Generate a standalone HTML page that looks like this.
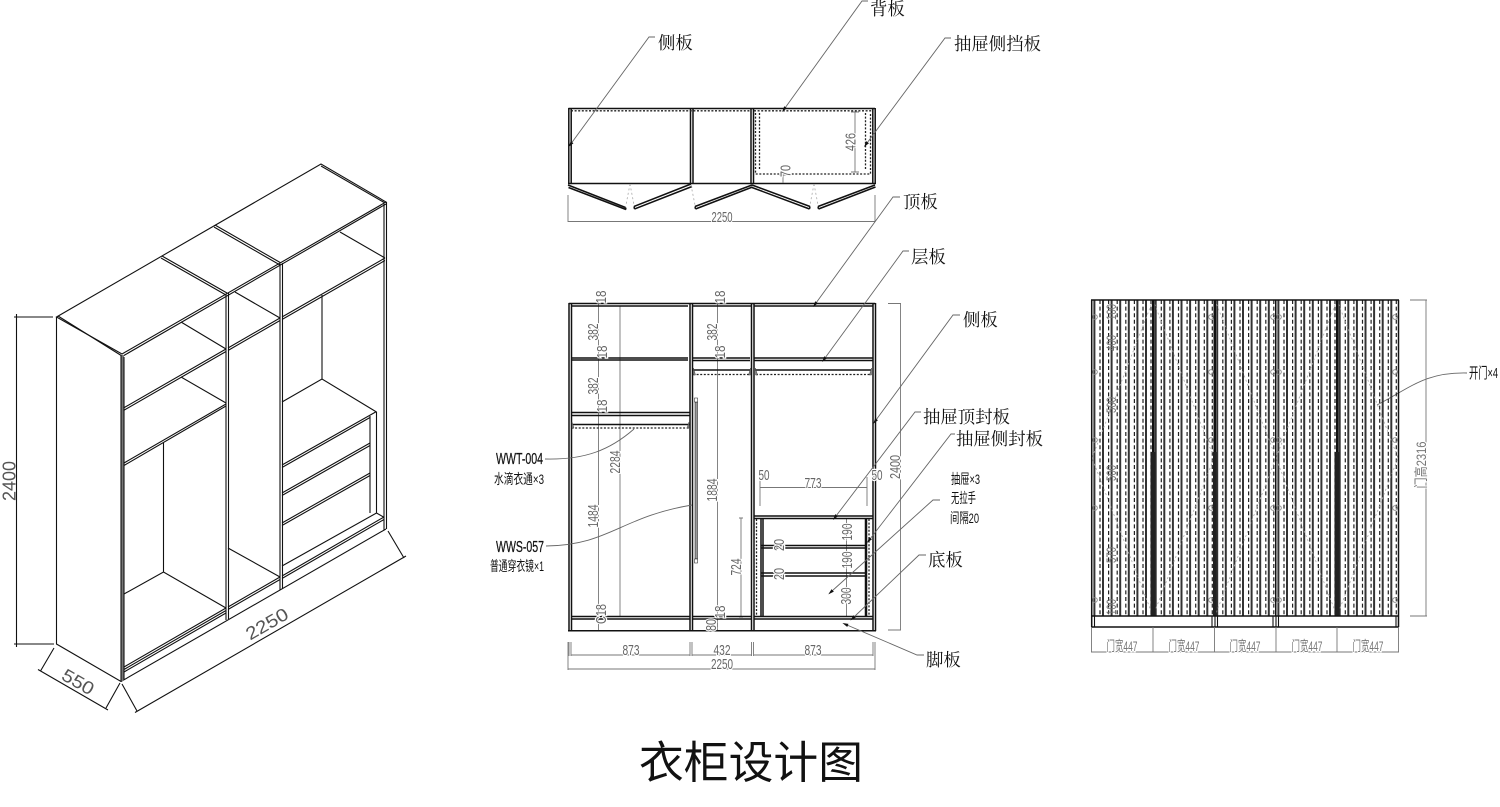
<!DOCTYPE html>
<html lang="zh"><head><meta charset="utf-8"><title>衣柜设计图</title>
<style>
html,body{margin:0;padding:0;background:#fff}
svg{display:block}
.k{stroke:#111;stroke-width:1.1;fill:none}
.t{stroke:#111;stroke-width:1.5;fill:none}
.g{stroke:#777;stroke-width:.9;fill:none}
.l{stroke:#666;stroke-width:.9;fill:none}
.dot{stroke:#222;stroke-width:1.3;stroke-dasharray:2 1.6;fill:none}
.dg{stroke:#aaa;stroke-width:.8;stroke-dasharray:2 2.5;fill:none}
.d{font:15px "Liberation Sans",sans-serif;fill:#666;text-anchor:middle;paint-order:stroke;stroke:#fff;stroke-width:2.5}
.f{fill:#777;font:14px "Liberation Sans","Noto Sans CJK SC",sans-serif;text-anchor:middle}
.i{font:18px "Liberation Sans",sans-serif;fill:#555;text-anchor:middle}
.s{font:17.4px "Noto Serif CJK SC",serif;fill:#111}
.n{font:14px "Liberation Sans","Noto Sans CJK SC",sans-serif;fill:#111}
.c{font:16px "Liberation Sans",sans-serif;fill:#111;stroke:#111;stroke-width:.25}
.title{font:44.4px "Noto Sans CJK SC",sans-serif;fill:#111}
</style></head><body>
<svg width="1500" height="807" viewBox="0 0 1500 807" xmlns="http://www.w3.org/2000/svg">
<defs>
<marker id="a" markerUnits="userSpaceOnUse" markerWidth="7" markerHeight="4" refX="1" refY="2" orient="auto-start-reverse"><path d="M6 0.3L6 3.7L0 2Z" fill="#111" transform="rotate(180 3 2)"/></marker>
<g id="door">
<path d="M2.4 0V316M11 0V316M19.6 0V316M28.2 0V316M36.8 0V316M45.4 0V316M54 0V316" stroke="#333" stroke-width="2" fill="none"/>
<path d="M8 0V316M16.6 0V316M25.2 0V316M33.8 0V316M42.4 0V316M51 0V316M59 0V316" stroke="#222" stroke-width="1.2" stroke-dasharray="4 2.6" fill="none"/>
</g>
</defs>

<!-- ISOMETRIC -->
<g class="k">
<path d="M56.5 317L321 164L386 202L122 354Z"/>
<path d="M58 316L122 356M321 166L385 203M123 356L386 204"/>
<path d="M162 256L227 293M161 258L226 295M215 225L281 263M214 227L280 265"/>
<path d="M56.5 317V644L121 681.5L386 529"/>
</g>
<g fill="#777" stroke="none"><rect x="121" y="355" width="3" height="326"/></g>
<g class="k">
<path d="M121 355V681M124 357V680M226 294V620M228.500 293V619M280 264V590M282.500 263V589M384 204V530M386.500 202V529"/>
<path d="M123.500 408L226 349M123.500 410.500L226 351.500M228 348L280 318M228 350.500L280 320.500M282 317L385 258M282 319.500L385 260.500"/>
<path d="M181 322L226 349M235 292L280 318M340 232L385 258"/>
<path d="M124 463L226 404M124 465.500L226 406M181 377L226 403"/>
<path d="M163.500 443V572M124 594L163.500 572L226 608"/>
<path d="M124 667L226 608M124 669.500L226 610.500M124 672L226 613M228 607L280 577M228 609.500L280 579.500M228 548L280 577"/>
<path d="M282 566L376.500 513L383.500 517M282 576L384 517M282 578.500L384 519.500"/>
<path d="M322 295V379M282 402L322 379L376.500 412"/>
<path d="M370 416V513M376.500 412V513"/>
<path d="M282 465L376.500 411.500M282 467.500L370 417.500M282 493L370 443M282 495.500L370 445.500M282 523L370 473M282 525.500L370 475.500"/>
</g>
<g class="k" stroke-width=".9">
<path d="M14 317H53M16.500 314V647M14 644H54M54 648L40.500 671M38 669.500L108 710M120 683L106 708M122 684L137 711M135 712.500L406 556M388 531L404 558"/>
</g>
<text class="i" transform="translate(9,481) rotate(-90)" y="6.500" textLength="40" lengthAdjust="spacingAndGlyphs">2400</text>
<text class="i" transform="translate(78,682) rotate(30)" y="6" textLength="34" lengthAdjust="spacingAndGlyphs">550</text>
<text class="i" transform="translate(267,624) rotate(-30)" y="6" textLength="46" lengthAdjust="spacingAndGlyphs">2250</text>

<!-- PLAN -->
<g class="t">
<path d="M568.500 108.500H875M568.800 108V184M571.200 108V184M690.500 108V184M693 108V184M751 108V184M753.500 108V184M872.800 108V184M875.200 108V184M568 183.500H876"/>
</g>
<path class="dot" d="M571 110.800H751M754 110.800H873M755.500 113V174H870.500V113M759.500 113V170M865.500 113V170"/>
<g class="t" stroke-width="1.300">
<path d="M568 185L625.500 207.500M568.500 187.500L626 209.500M625.500 207.500L626 209.500M634 206.500L691 184M634.500 209L692 186.500M634 206.500L634.500 209"/>
<path d="M695 206.500L752 185M695.500 209L752.500 187M695 206.500L695.500 209M752 185L810 206.500M752 187.500L809.500 209M810 206.500L809.500 209M818 206.500L875 185M818.500 209L875.500 187M818 206.500L818.500 209"/>
</g>
<path class="dg" d="M630 184L626 205M630 184L634 205M691 185L695 205M814 184L810 205M814 184L818 205"/>
<g class="g"><path d="M855 112V172M851 112H859M851 172H859M783 175V183M779 175H787M568 195V222M875 195V222M568 221.500H875"/></g>
<text class="d" transform="translate(850,142) rotate(-90)" y="5.500" textLength="18" lengthAdjust="spacingAndGlyphs">426</text>
<text class="d" transform="translate(785,171) rotate(-90)" y="5.500" textLength="12" lengthAdjust="spacingAndGlyphs">70</text>
<text class="d" x="722" y="222" textLength="21" lengthAdjust="spacingAndGlyphs">2250</text>

<!-- FRONT -->
<g class="g">
<path d="M598.500 303V630M620 306V617M717.500 303V630M741 518V617M739 518H743M739 617H743"/>
<path d="M569 642V656M571 642V656M690 642V656M692 642V656M751.500 642V656M753.500 642V656M873 642V656M875 642V670M568 642V670"/>
<path d="M571 655H690M692 655H752M754 655H873M568 669H875"/>
<path d="M888 303.500H901M900.500 303V630M888 630H901"/>
<path d="M760 477V506M867 477V506M760 487.500H867"/>
<path d="M846.500 518V617"/>
</g>
<g class="t">
<path d="M568.800 303.500H875.200M569 303V631M571.500 303V631M690 303V631M692.500 303V631M751.500 303V631M754 303V631M873 303V631M875.500 303V631M568 630.800H876"/>
<path d="M571.500 306H688M692.500 306H751M754 306H873"/>
<path d="M571.500 358H688M571.500 360H688M692.500 358H750M692.500 360.500H750M754 358H873M754 360.500H873"/>
<path d="M571.500 412.500H690M571.500 415.500H690M571.500 424.500H690"/>
<path d="M571.500 616.500H690M571.500 619H690M692.500 616.500H751M692.500 619H751M754 616.500H873M754 619H873"/>
<path d="M693 370H750M755 370H871M754 516H873M754 518.500H873"/>
<path d="M761 518V617M763 518V617M865.500 518V617M866.500 518V617M761 545.500H866M761 548H866M761 573H866M761 576H866"/>
</g>
<path class="dot" d="M571.500 428H690M693 374.500H750M756 374.500H871M756.500 519V616M869 519V616" stroke-width="1.200"/>
<g fill="#888" stroke="#444" stroke-width=".5">
<path d="M572 422L574 428H572ZM689 422L687 428H689ZM693.500 368L695.500 375H693.500ZM750.500 368L748.500 375H750.500ZM755.500 368L757.500 375H755.500ZM871.500 368L869.500 375H871.500Z"/>
<rect x="695" y="402" width="2.500" height="157" fill="#999" stroke="#111"/>
<rect x="694.500" y="398" width="3" height="4" fill="#fff" stroke="#111"/>
<rect x="694.500" y="559" width="3" height="4" fill="#fff" stroke="#111"/>
</g>
<g>
<text class="d" transform="translate(601,297) rotate(-90)" y="5" textLength="13" lengthAdjust="spacingAndGlyphs">18</text>
<text class="d" transform="translate(593,332) rotate(-90)" y="5" textLength="17" lengthAdjust="spacingAndGlyphs">382</text>
<text class="d" transform="translate(602,352) rotate(-90)" y="5" textLength="13" lengthAdjust="spacingAndGlyphs">18</text>
<text class="d" transform="translate(593,386) rotate(-90)" y="5" textLength="17" lengthAdjust="spacingAndGlyphs">382</text>
<text class="d" transform="translate(602,406) rotate(-90)" y="5" textLength="13" lengthAdjust="spacingAndGlyphs">18</text>
<text class="d" transform="translate(615,462) rotate(-90)" y="5" textLength="23" lengthAdjust="spacingAndGlyphs">2284</text>
<text class="d" transform="translate(593,516) rotate(-90)" y="5" textLength="23" lengthAdjust="spacingAndGlyphs">1484</text>
<text class="d" transform="translate(601,614) rotate(-90)" y="5" textLength="20" lengthAdjust="spacingAndGlyphs">C18</text>
<text class="d" transform="translate(720,297) rotate(-90)" y="5" textLength="13" lengthAdjust="spacingAndGlyphs">18</text>
<text class="d" transform="translate(712,332) rotate(-90)" y="5" textLength="17" lengthAdjust="spacingAndGlyphs">382</text>
<text class="d" transform="translate(720,352) rotate(-90)" y="5" textLength="13" lengthAdjust="spacingAndGlyphs">18</text>
<text class="d" transform="translate(712,490) rotate(-90)" y="5" textLength="23" lengthAdjust="spacingAndGlyphs">1884</text>
<text class="d" transform="translate(720,612) rotate(-90)" y="5" textLength="13" lengthAdjust="spacingAndGlyphs">18</text>
<text class="d" transform="translate(711,625) rotate(-90)" y="5" textLength="12" lengthAdjust="spacingAndGlyphs">80</text>
<text class="d" transform="translate(736,567) rotate(-90)" y="5" textLength="17" lengthAdjust="spacingAndGlyphs">724</text>
<text class="d" transform="translate(895,467) rotate(-90)" y="5" textLength="24" lengthAdjust="spacingAndGlyphs">2400</text>
<text class="d" transform="translate(779,545) rotate(-90)" y="5" textLength="12" lengthAdjust="spacingAndGlyphs">20</text>
<text class="d" transform="translate(779,574) rotate(-90)" y="5" textLength="12" lengthAdjust="spacingAndGlyphs">20</text>
<text class="d" transform="translate(847,532) rotate(-90)" y="5" textLength="17" lengthAdjust="spacingAndGlyphs">190</text>
<text class="d" transform="translate(847,560) rotate(-90)" y="5" textLength="17" lengthAdjust="spacingAndGlyphs">190</text>
<text class="d" transform="translate(846,596) rotate(-90)" y="5" textLength="17" lengthAdjust="spacingAndGlyphs">300</text>
<text class="d" x="631" y="655" textLength="17" lengthAdjust="spacingAndGlyphs">873</text>
<text class="d" x="722" y="655" textLength="17" lengthAdjust="spacingAndGlyphs">432</text>
<text class="d" x="813" y="655" textLength="17" lengthAdjust="spacingAndGlyphs">873</text>
<text class="d" x="722" y="669" textLength="22" lengthAdjust="spacingAndGlyphs">2250</text>
<text class="d" x="813" y="488" textLength="17" lengthAdjust="spacingAndGlyphs">773</text>
<text class="d" x="764" y="480" textLength="11" lengthAdjust="spacingAndGlyphs">50</text>
<text class="d" x="877" y="480" textLength="11" lengthAdjust="spacingAndGlyphs">50</text>
</g>

<!-- LEADERS -->
<g class="l">
<path marker-start="url(#a)" d="M571.500 143L649 37H655"/>
<path marker-start="url(#a)" d="M785 108L862 1H868"/>
<path marker-start="url(#a)" d="M867 143L945 38H951"/>
<path marker-start="url(#a)" d="M816 303L893 197H900"/>
<path marker-start="url(#a)" d="M825 358L903 251H909"/>
<path marker-start="url(#a)" d="M876 420L953 315H960"/>
<path marker-start="url(#a)" d="M836 516L915 412H921"/>
<path marker-start="url(#a)" d="M870 539L951 434H955"/>
<path marker-start="url(#a)" d="M832 591L933 500H940"/>
<path marker-start="url(#a)" d="M854 617L919 555H926"/>
<path marker-start="url(#a)" d="M847 625L917 655H924"/>
<path d="M545 459C585 460 610 450 634 429"/>
<path d="M546 546C610 545 620 517 692 505"/>
<path d="M1377 405C1410 388 1425 372 1467 373"/>
</g>

<!-- LABELS -->
<text class="s" x="658" y="49">侧板</text>
<text class="s" x="870" y="15">背板</text>
<text class="s" x="954" y="50" textLength="87" lengthAdjust="spacingAndGlyphs">抽屉侧挡板</text>
<text class="s" x="903" y="208">顶板</text>
<text class="s" x="911" y="263">层板</text>
<text class="s" x="963" y="326">侧板</text>
<text class="s" x="923" y="423" textLength="87" lengthAdjust="spacingAndGlyphs">抽屉顶封板</text>
<text class="s" x="956" y="445" textLength="87" lengthAdjust="spacingAndGlyphs">抽屉侧封板</text>
<text class="s" x="928" y="566">底板</text>
<text class="s" x="926" y="666">脚板</text>
<text class="n" x="951" y="484" textLength="29" lengthAdjust="spacingAndGlyphs">抽屉×3</text>
<text class="n" x="951" y="503" textLength="25" lengthAdjust="spacingAndGlyphs">无拉手</text>
<text class="n" x="950" y="523" textLength="29" lengthAdjust="spacingAndGlyphs">间隔20</text>
<text class="c" x="496" y="464" textLength="47" lengthAdjust="spacingAndGlyphs">WWT-004</text>
<text class="n" x="494" y="484" textLength="50" lengthAdjust="spacingAndGlyphs">水滴衣通×3</text>
<text class="c" x="496" y="552" textLength="48" lengthAdjust="spacingAndGlyphs">WWS-057</text>
<text class="n" x="490" y="571" textLength="54" lengthAdjust="spacingAndGlyphs">普通穿衣镜×1</text>
<text class="n" x="1469" y="378" style="font-size:15px" textLength="29" lengthAdjust="spacingAndGlyphs">开门×4</text>

<!-- DOORS -->
<use href="#door" x="1092" y="300"/>
<use href="#door" x="1153.300" y="300"/>
<use href="#door" x="1214.800" y="300"/>
<use href="#door" x="1276" y="300"/>
<use href="#door" x="1337.300" y="300"/>
<g stroke="#888" stroke-width=".9" fill="none">
<circle cx="1095" cy="317" r="2.300"/><circle cx="1095" cy="372" r="2.300"/><circle cx="1095" cy="440" r="2.300"/><circle cx="1095" cy="508" r="2.300"/><circle cx="1095" cy="600" r="2.300"/>
<circle cx="1211" cy="317" r="2.300"/><circle cx="1211" cy="372" r="2.300"/><circle cx="1211" cy="440" r="2.300"/><circle cx="1211" cy="508" r="2.300"/><circle cx="1211" cy="600" r="2.300"/>
<circle cx="1273" cy="317" r="2.300"/><circle cx="1273" cy="372" r="2.300"/><circle cx="1273" cy="440" r="2.300"/><circle cx="1273" cy="508" r="2.300"/><circle cx="1273" cy="600" r="2.300"/>
<circle cx="1279" cy="317" r="2.300"/><circle cx="1279" cy="372" r="2.300"/><circle cx="1279" cy="440" r="2.300"/><circle cx="1279" cy="508" r="2.300"/><circle cx="1279" cy="600" r="2.300"/>
<circle cx="1395" cy="317" r="2.300"/><circle cx="1395" cy="372" r="2.300"/><circle cx="1395" cy="440" r="2.300"/><circle cx="1395" cy="508" r="2.300"/><circle cx="1395" cy="600" r="2.300"/>
</g>
<path class="dg" d="M1153 300L1092 458L1153 616M1153 300L1214 458L1153 616M1215 300L1276 458L1215 616M1337 300L1276 458L1337 616M1337 300L1398 458L1337 616"/>
<g class="f">
<text transform="translate(1112,312) rotate(-90)" y="4" textLength="16" lengthAdjust="spacingAndGlyphs">100</text>
<text transform="translate(1112,343) rotate(-90)" y="4" textLength="16" lengthAdjust="spacingAndGlyphs">400</text>
<text transform="translate(1112,405) rotate(-90)" y="4" textLength="16" lengthAdjust="spacingAndGlyphs">500</text>
<text transform="translate(1112,473) rotate(-90)" y="4" textLength="16" lengthAdjust="spacingAndGlyphs">500</text>
<text transform="translate(1112,555) rotate(-90)" y="4" textLength="16" lengthAdjust="spacingAndGlyphs">570</text>
<text transform="translate(1112,607) rotate(-90)" y="4" textLength="16" lengthAdjust="spacingAndGlyphs">100</text>
</g>
<g fill="#111" stroke="none">
<rect x="1152" y="300" width="2.500" height="316"/>
<rect x="1213.500" y="300" width="2.500" height="316"/>
<rect x="1275" y="300" width="1.500" height="316"/>
<rect x="1336" y="300" width="2.500" height="316"/>
<rect x="1150.500" y="452" width="5" height="164" fill="#222"/>
<rect x="1213" y="452" width="3.500" height="164" fill="#222"/>
<rect x="1334.500" y="452" width="5" height="164" fill="#222"/>
</g>
<g class="t">
<path d="M1091 300H1399M1091.700 300V627M1398.500 300V627M1091 616H1399M1091 627H1399"/>
</g>
<g class="k">
<path d="M1094.500 616V627M1212 616V627M1215 616V627M1217.500 616V627M1273 616V627M1276 616V627M1278.500 616V627M1396 616V627"/>
</g>
<g class="g">
<path d="M1091.500 627V652M1153 627V652M1214.500 627V652M1276 627V652M1337 627V652M1398.500 627V652M1091 652H1399"/>
<path d="M1410 300H1427M1426 300V616M1410 616H1427"/>
</g>
<g class="f" style="paint-order:stroke;stroke:#fff;stroke-width:2.500">
<text x="1122" y="651" textLength="31" lengthAdjust="spacingAndGlyphs">门宽447</text>
<text x="1184" y="651" textLength="31" lengthAdjust="spacingAndGlyphs">门宽447</text>
<text x="1245" y="651" textLength="31" lengthAdjust="spacingAndGlyphs">门宽447</text>
<text x="1307" y="651" textLength="31" lengthAdjust="spacingAndGlyphs">门宽447</text>
<text x="1368" y="651" textLength="31" lengthAdjust="spacingAndGlyphs">门宽447</text>
<text transform="translate(1421,465) rotate(-90)" y="5" textLength="47" lengthAdjust="spacingAndGlyphs">门高2316</text>
</g>

<text class="title" x="639" y="778" textLength="224" lengthAdjust="spacingAndGlyphs">衣柜设计图</text>
</svg>
</body></html>
